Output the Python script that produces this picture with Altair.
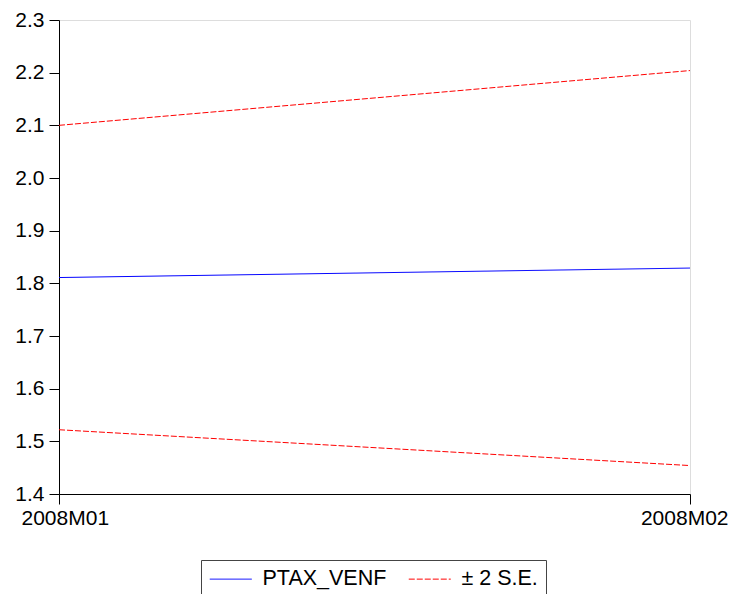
import altair as alt
import pandas as pd

periods = ["2008M01", "2008M02"]
forecast = [1.811, 1.829]
upper = [2.100, 2.204]
lower = [1.522, 1.454]
series_names = ["PTAX_VENF", "± 2 S.E."]

rows = []
for i, p in enumerate(periods):
    rows.append({"period": p, "value": forecast[i], "series": series_names[0], "line": "f"})
    rows.append({"period": p, "value": upper[i], "series": series_names[1], "line": "u"})
    rows.append({"period": p, "value": lower[i], "series": series_names[1], "line": "l"})
df = pd.DataFrame(rows)

FONT = "Liberation Sans"
FS = 21

chart = alt.Chart(df).mark_line(strokeWidth=1).encode(
    x=alt.X("period:O", scale=alt.Scale(type="point", padding=0), sort=periods,
            axis=alt.Axis(title=None, labelAngle=0, tickSize=10, labelPadding=3,
                          labelFontSize=FS, labelFont=FONT, labelColor="black",
                          labelFlush=True, labelFlushOffset=38,
                          domainColor="black", tickColor="black", grid=False)),
    y=alt.Y("value:Q", scale=alt.Scale(domain=[1.4, 2.3], nice=False, zero=False),
            axis=alt.Axis(title=None, values=[1.4, 1.5, 1.6, 1.7, 1.8, 1.9, 2.0, 2.1, 2.2, 2.3],
                          format=".1f", tickSize=10, labelPadding=5, labelFontSize=FS,
                          labelFont=FONT, labelColor="black", domainColor="black",
                          tickColor="black", grid=False)),
    color=alt.Color("series:N", scale=alt.Scale(domain=series_names, range=["#0000FF", "#FF0000"]),
                    legend=alt.Legend(title=None, orient="none", legendX=142, legendY=540,
                                      direction="horizontal", symbolType="M-1,0H3.2",
                                      symbolSize=400, symbolStrokeWidth=1,
                                      labelFontSize=21.5, labelFont=FONT, labelColor="black",
                                      labelOffset=32, columnPadding=19, padding=8,
                                      strokeColor="#444444", fillColor="white",
                                      cornerRadius=0)),
    strokeDash=alt.StrokeDash("series:N",
                              scale=alt.Scale(domain=series_names, range=[[1, 0], [6, 2]]),
                              legend=None),
    detail="line:N",
).properties(
    width=631, height=474,
    autosize=alt.AutoSizeParams(type="none"),
    padding={"left": 51, "top": 12, "right": 38, "bottom": 100},
).configure_view(stroke="black", strokeWidth=1.5).configure(background="white")

chart.save("out.html", embed_options={"renderer": "svg", "actions": False})
